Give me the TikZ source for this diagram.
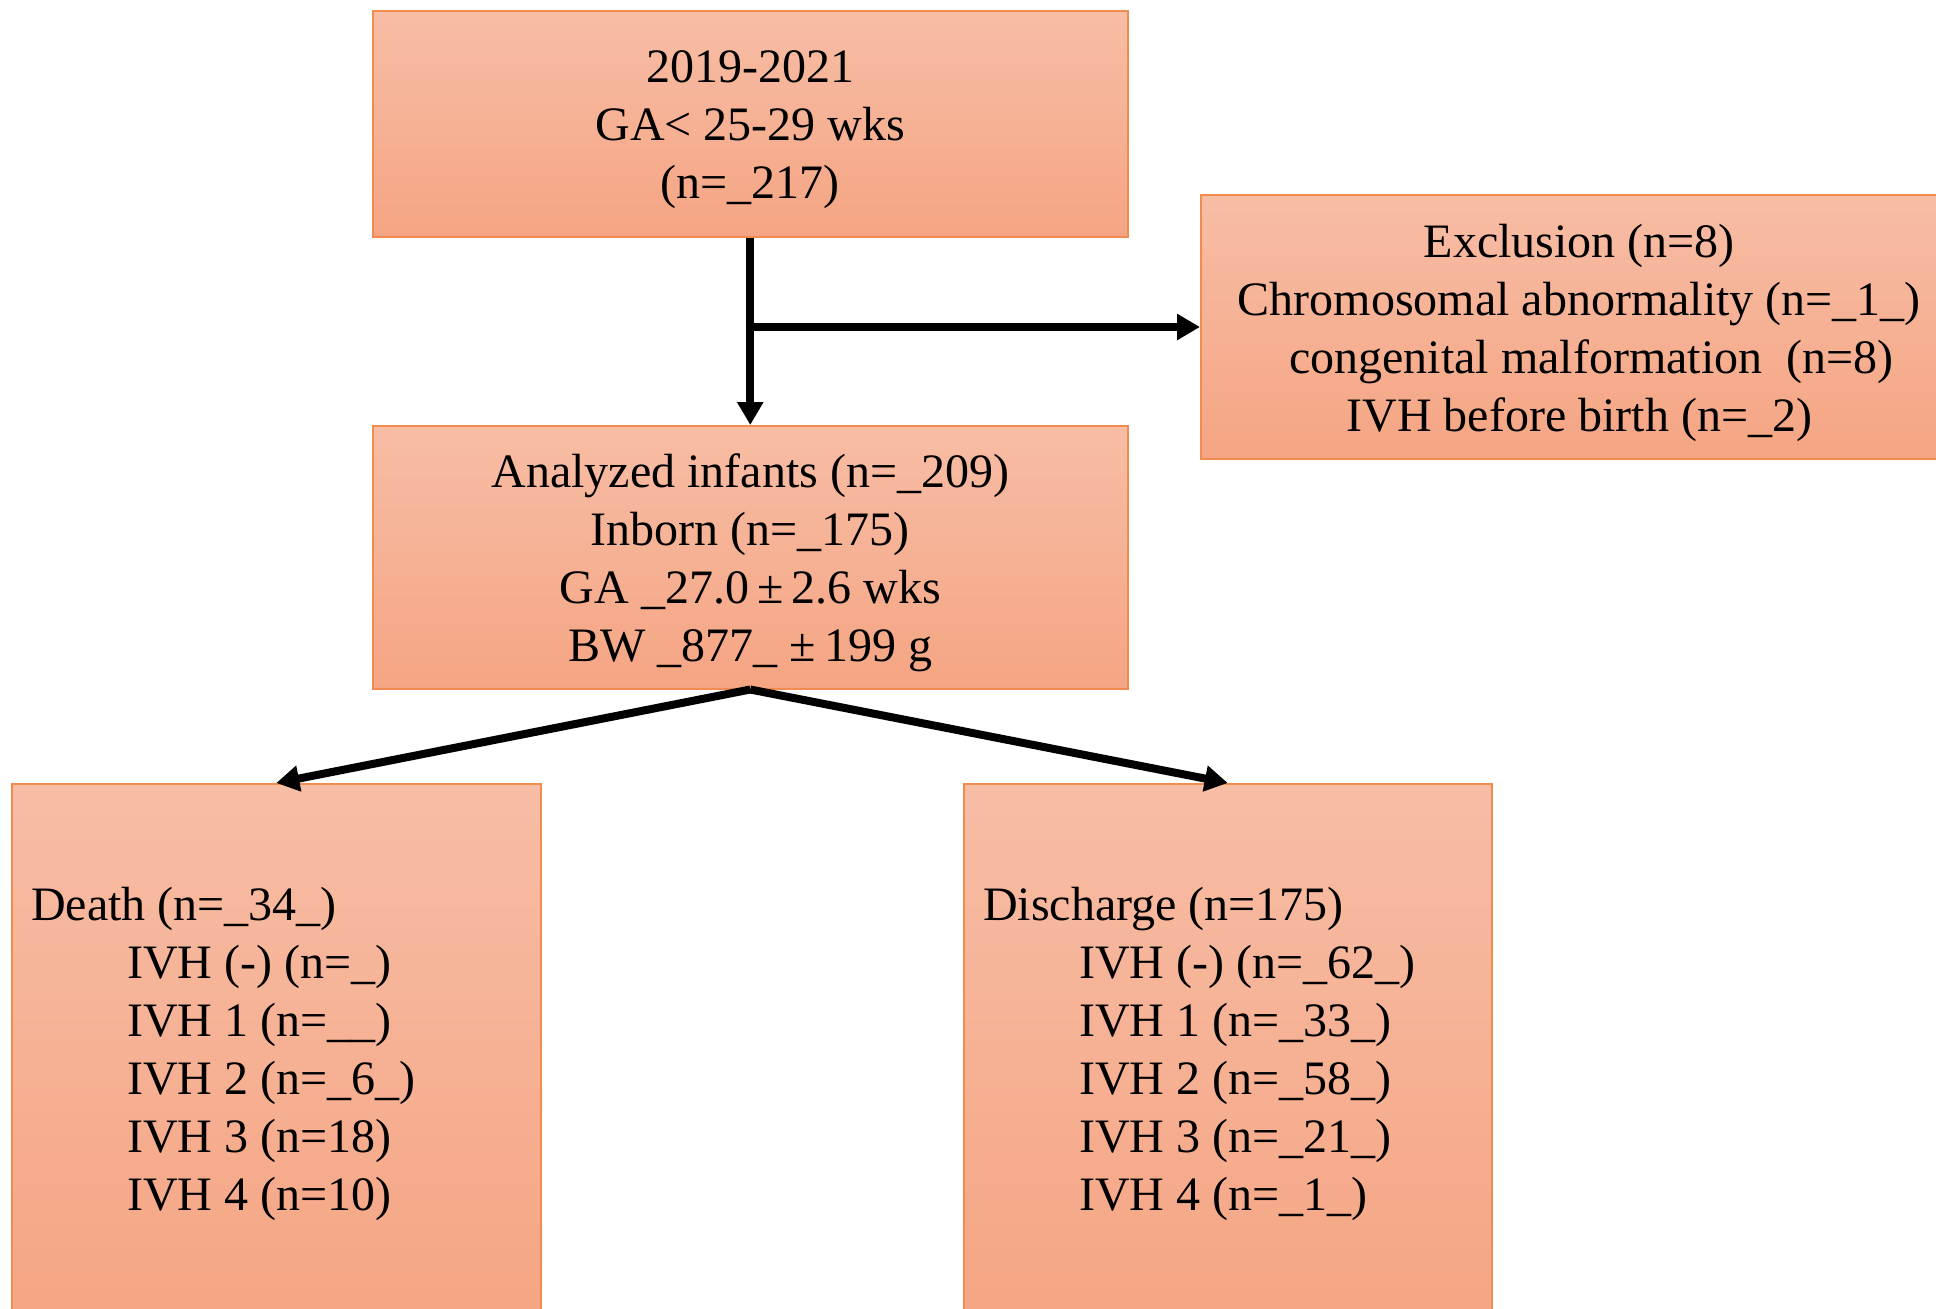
\documentclass[tikz,border=0pt]{standalone}
\usepackage{fontspec}
\setmainfont{Liberation Serif}
\usetikzlibrary{arrows.meta}
\definecolor{boxtop}{HTML}{F7BDA5}
\definecolor{boxbot}{HTML}{F5A583}
\definecolor{boxline}{HTML}{F08C50}
\begin{document}
\begin{tikzpicture}[x=1pt,y=-1pt,
  flowbox/.style={draw=boxline,line width=1.5pt,top color=boxtop,bottom color=boxbot,rectangle,inner sep=0pt,anchor=north west},
  boxtxt/.style={font=\fontsize{48}{58}\selectfont,align=center,inner sep=0pt,yshift=-6pt},
  listtxt/.style={font=\fontsize{48}{58}\selectfont,align=left,inner sep=0pt,anchor=north west},
  conn/.style={line width=8pt,-{Triangle[length=23pt,width=25pt]}}]
\useasboundingbox (0,0) rectangle (1936,1309);
\clip (0,0) rectangle (1936,1309);
\node[flowbox,minimum width=755pt,minimum height=226pt] (top) at (372,10) {};
\node[flowbox,minimum width=745pt,minimum height=264pt] (excl) at (1200,194) {};
\node[flowbox,minimum width=755pt,minimum height=263pt] (ana) at (372,425) {};
\node[flowbox,minimum width=529pt,minimum height=540pt] (death) at (11,783) {};
\node[flowbox,minimum width=528pt,minimum height=540pt] (disc) at (963,783) {};
\node[boxtxt] (toptxt) at (top.center) {2019-2021\\GA< 25-29 wks\\(n=\_217)};
\node[boxtxt] (excltxt) at ([xshift=6pt]excl.center)
  {Exclusion (n=8)\\Chromosomal abnormality (n=\_1\_)\\\ \ congenital malformation\ \ (n=8)\\IVH before birth (n=\_2)};
\node[boxtxt] (anatxt) at (ana.center)
  {Analyzed infants (n=\_209)\\Inborn (n=\_175)\\GA \_27.0\,±\,2.6 wks\\BW \_877\_ ±\,199 g};
\node[listtxt] (deathtxt) at (31,887)
  {Death (n=\_34\_)\\\hspace*{96pt}IVH (-) (n=\_)\\\hspace*{96pt}IVH 1 (n=\_\_)\\\hspace*{96pt}IVH 2 (n=\_6\_)\\\hspace*{96pt}IVH 3 (n=18)\\\hspace*{96pt}IVH 4 (n=10)};
\node[listtxt] (disctxt) at (983,887)
  {Discharge (n=175)\\\hspace*{96pt}IVH (-) (n=\_62\_)\\\hspace*{96pt}IVH 1 (n=\_33\_)\\\hspace*{96pt}IVH 2 (n=\_58\_)\\\hspace*{96pt}IVH 3 (n=\_21\_)\\\hspace*{96pt}IVH 4 (n=\_1\_)};
\coordinate (junc) at (749.5,327);
\draw[conn] (top.south) -- (ana.north);
\draw[conn] ([xshift=-4pt]junc) -- (junc -| excl.west);
\draw[conn] (ana.south) -- (death.north);
\draw[conn] (ana.south) -- (disc.north);
\end{tikzpicture}
\end{document}
